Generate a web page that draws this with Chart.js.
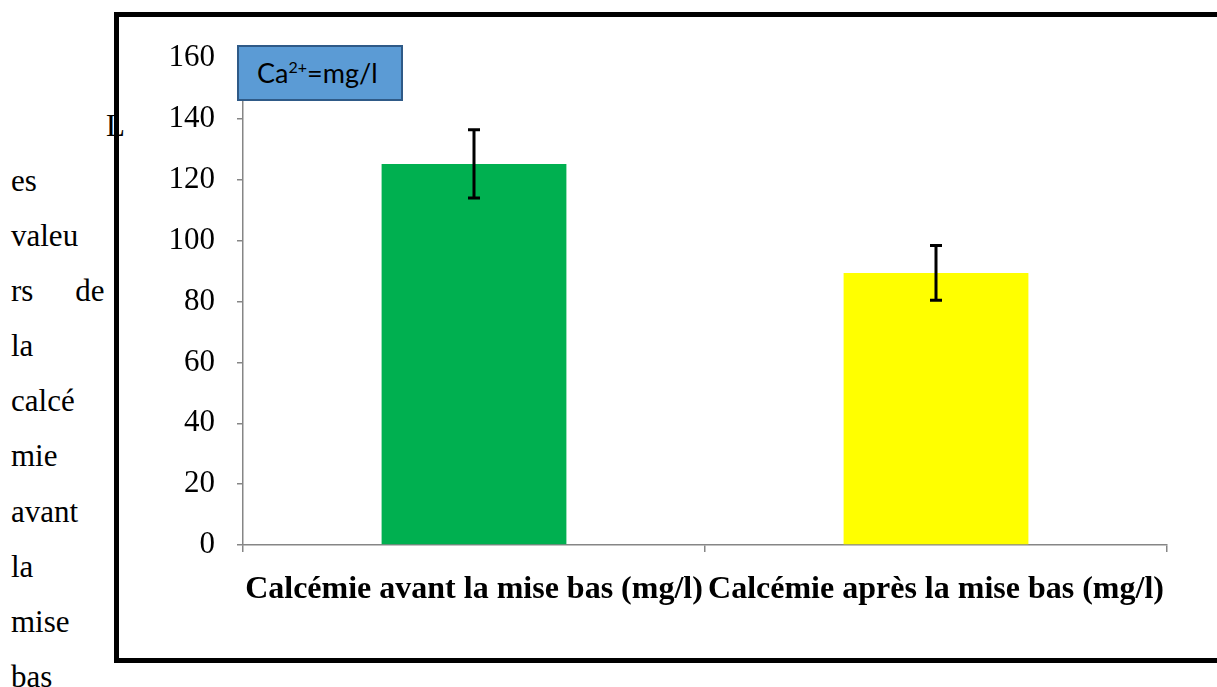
<!DOCTYPE html>
<html lang="fr">
<head>
<meta charset="utf-8">
<title>Calcémie avant et après la mise bas</title>
<script src="https://cdn.jsdelivr.net/npm/chart.js@4.4.0/dist/chart.umd.min.js"></script>
<style>
  html, body { margin: 0; padding: 0; background: #fff; }
  body { width: 1217px; height: 687px; position: relative; overflow: hidden;
         font-family: "Liberation Serif", "Times New Roman", serif; }
  .frame { position: absolute; left: 114px; top: 12px; width: 1200px; height: 641px;
           border: 5px solid #000; border-right: none; }
  #chart { position: absolute; left: 0; top: 0; }
  .side { position: absolute; left: 11px; top: 153px; font-size: 31px; line-height: 55.1px; color: #000; }
  .side .w { word-spacing: 34px; }
  .cap { position: absolute; left: 106px; top: 98px; font-size: 31px; line-height: 55.1px; }
  .legend { position: absolute; left: 237px; top: 45px; height: 52px;
            background: #5b9bd5; border: 2px solid #2f5a87;
            font-family: Lato, "Open Sans", sans-serif; font-size: 27px; line-height: 52px;
            padding-left: 18px; box-sizing: content-box; width: 144px; color: #000; }
  .legend sup { font-size: 16px; vertical-align: 0; position: relative; top: -10px; }
</style>
</head>
<body>
<div class="frame"></div>
<div class="cap">L</div>
<div class="side">
  es<br>valeu<br><span class="w">rs de</span><br>la<br>calcé<br>mie<br>avant<br>la<br>mise<br>bas
</div>
<canvas id="chart" width="1217" height="687"></canvas>
<div class="legend">Ca<sup>2+</sup>=mg/l</div>
<script>
// values
const categories = ['Calcémie avant la mise bas (mg/l)', 'Calcémie après la mise bas (mg/l)'];
const calcemie = [125.2, 89.4];
const ecartType = [11.2, 9.0];
const barColors = ['#00b050', '#ffff00'];
const yTicks = [0, 20, 40, 60, 80, 100, 120, 140, 160];

const axisGray = '#868686';

// error bars drawn from the y scale
const errorBars = {
    id: 'errorBars',
    afterDatasetsDraw(chart) {
        const ctx = chart.ctx;
        const y = chart.scales.y;
        chart.getDatasetMeta(0).data.forEach((bar, i) => {
            const top = y.getPixelForValue(calcemie[i] + ecartType[i]);
            const bottom = y.getPixelForValue(calcemie[i] - ecartType[i]);
            ctx.save();
            ctx.strokeStyle = '#000';
            ctx.lineWidth = 3;
            ctx.beginPath();
            ctx.moveTo(bar.x, top);
            ctx.lineTo(bar.x, bottom);
            ctx.moveTo(bar.x - 6, top);
            ctx.lineTo(bar.x + 6, top);
            ctx.moveTo(bar.x - 6, bottom);
            ctx.lineTo(bar.x + 6, bottom);
            ctx.stroke();
            ctx.restore();
        });
    }
};

new Chart(document.getElementById('chart'), {
    type: 'bar',
    data: {
        labels: categories,
        datasets: [{
            data: calcemie,
            backgroundColor: barColors,
            borderWidth: 0,
            categoryPercentage: 1,
            barPercentage: 0.4
        }]
    },
    options: {
        responsive: false,
        animation: false,
        devicePixelRatio: 1,
        layout: { padding: { left: 0, right: 50, top: 58, bottom: 0 } },
        plugins: {
            legend: { display: false },
            tooltip: { enabled: false }
        },
        scales: {
            x: {
                afterFit(scale) { scale.height = 142; },
                border: { color: axisGray, width: 1.5 },
                grid: { drawOnChartArea: false, color: axisGray, lineWidth: 1.5, tickLength: 7 },
                ticks: {
                    color: '#000',
                    maxRotation: 0,
                    autoSkip: false,
                    padding: 19,
                    font: { family: '"Liberation Serif", "Times New Roman", serif', size: 32, weight: 'bold' }
                }
            },
            y: {
                min: 0,
                max: 160,
                afterFit(scale) { scale.width = 243; },
                afterBuildTicks(scale) { scale.ticks = yTicks.map(v => ({ value: v })); },
                border: { color: axisGray, width: 1.5 },
                grid: { drawOnChartArea: false, color: axisGray, lineWidth: 1.5, tickLength: 6 },
                ticks: {
                    color: '#000',
                    padding: 22,
                    font: { family: '"Liberation Serif", "Times New Roman", serif', size: 31 }
                }
            }
        }
    },
    plugins: [errorBars]
});
</script>
</body>
</html>
